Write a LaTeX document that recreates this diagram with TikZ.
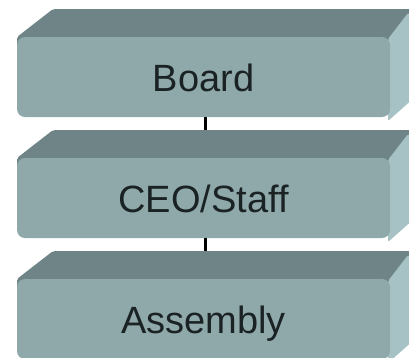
\documentclass[tikz,border=0pt]{standalone}
\usepackage{fontspec}
\setmainfont{Liberation Sans}
\definecolor{slabtop}{HTML}{6E8486}
\definecolor{slabfront}{HTML}{8FA9AB}
\definecolor{slabside}{HTML}{A6C2C4}
\definecolor{slabtext}{HTML}{1A2224}
% one bevelled slab: #1 = top y, #2 = node name, #3 = label
\newcommand{\drawslab}[3]{%
  \fill[topface] (17,#1+40) -- (17,#1+28) -- (53,#1) -- (415,#1) -- (415,#1+40) -- cycle;
  \fill[sideface] (388,#1+30) -- (408,#1+4) -- (415,#1+4) -- (415,#1+88) -- (388,#1+112) -- cycle;
  \node[frontface] (#2) at (203.5,#1+68) {#3};
  \coordinate (#2-top) at (205,#1);
}
\begin{document}
\begin{tikzpicture}[x=1pt,y=-1pt,
  topface/.style={fill=slabtop, rounded corners=2pt},
  sideface/.style={fill=slabside, rounded corners=2pt},
  frontface/.style={fill=slabfront, draw=none, rounded corners=8pt,
    minimum width=373pt, minimum height=80pt, inner sep=0pt,
    text height=29pt, text depth=0pt,
    font=\fontsize{38}{40}\selectfont, text=slabtext},
  link/.style={line width=3pt, draw=black}]
\useasboundingbox (0,0) rectangle (409,357);
\clip (0,0) rectangle (409,357);
\fill[white] (0,0) rectangle (409,357);
\drawslab{9}{board}{Board}
\drawslab{130}{ceo}{CEO/Staff}
\drawslab{251}{assembly}{Assembly}
\draw[link] ([xshift=1.5pt]board.south) -- (ceo-top);
\draw[link] ([xshift=1.5pt]ceo.south) -- (assembly-top);
\end{tikzpicture}
\end{document}
